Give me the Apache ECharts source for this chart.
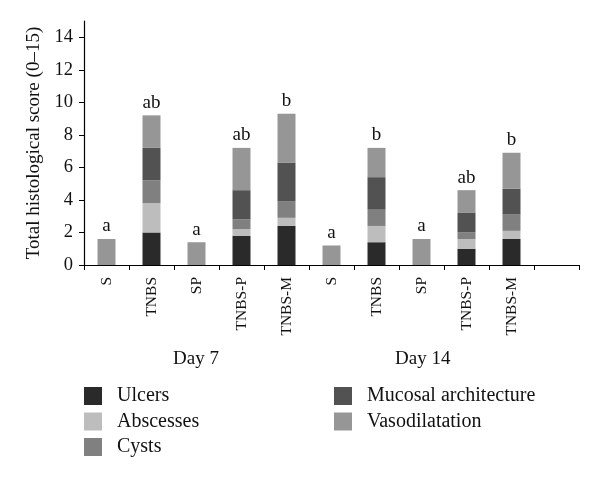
<!DOCTYPE html>
<html>
<head>
<meta charset="utf-8">
<script src="https://cdn.jsdelivr.net/npm/echarts@6/dist/echarts.min.js"></script>
<style>html,body{margin:0;padding:0;background:#fff}#c{width:600px;height:480px}</style>
</head>
<body>
<div id="c"></div>
<script>
const categories = ['S', 'TNBS', 'SP', 'TNBS-P', 'TNBS-M', 'S', 'TNBS', 'SP', 'TNBS-P', 'TNBS-M', ''];
const ulcers        = [0, 2.0, 0, 1.8, 2.4, 0, 1.4, 0, 1.0, 1.6, null];
const abscesses     = [0, 1.8, 0, 0.4, 0.5, 0, 1.0, 0, 0.6, 0.5, null];
const cysts         = [0, 1.4, 0, 0.6, 1.0, 0, 1.0, 0, 0.4, 1.0, null];
const mucosal       = [0, 2.0, 0, 1.8, 2.4, 0, 2.0, 0, 1.2, 1.6, null];
const vasodilatation= [1.6, 2.0, 1.4, 2.6, 3.0, 1.2, 1.8, 1.6, 1.4, 2.2, null];
const letters = ['a', 'ab', 'a', 'ab', 'b', 'a', 'b', 'a', 'ab', 'b', ''];
const yTicks = [0, 2, 4, 6, 8, 10, 12, 14];
const groups = ['Day 7', 'Day 14'];

const FONT = '"Liberation Serif", "DejaVu Serif", serif';
const chart = echarts.init(document.getElementById('c'));
const mk = (name, data, color, withLabel) => ({
  name, type: 'bar', stack: 'total', data, barWidth: 18,
  itemStyle: { color },
  label: withLabel ? {
    show: true, position: 'top', distance: 3, color: '#111',
    fontFamily: FONT, fontSize: 19,
    formatter: p => letters[p.dataIndex]
  } : { show: false },
  emphasis: { disabled: true }
});
const legendText = { fontFamily: FONT, fontSize: 20, color: '#111', padding: [0, 0, 0, 10] };
chart.setOption({
  animation: false,
  grid: { left: 84, right: 21, top: 21, bottom: 215, containLabel: false },
  xAxis: {
    type: 'category', data: categories, boundaryGap: true,
    axisLine: { lineStyle: { color: '#000', width: 1.2 } },
    axisTick: { show: true, length: 5, lineStyle: { color: '#000' }, interval: 0 },
    axisLabel: { rotate: 90, interval: 0, margin: 12, color: '#111', fontFamily: FONT, fontSize: 15.5 }
  },
  yAxis: {
    type: 'value', min: 0, max: 15, interval: 1,
    name: 'Total histological score (0–15)', nameLocation: 'middle', nameGap: 40,
    nameTextStyle: { color: '#111', fontFamily: FONT, fontSize: 19 },
    axisLine: { show: true, lineStyle: { color: '#000', width: 1.2 } },
    axisTick: { show: true, length: 5, lineStyle: { color: '#000' }, customValues: yTicks },
    axisLabel: { color: '#111', fontFamily: FONT, fontSize: 18.5, margin: 11, customValues: yTicks },
    splitLine: { show: false }
  },
  legend: [
    { data: ['Ulcers', 'Abscesses', 'Cysts'], orient: 'vertical', left: 84, top: 386,
      itemWidth: 18, itemHeight: 18, itemGap: 5.5, icon: 'rect', padding: 0,
      textStyle: legendText },
    { data: ['Mucosal architecture', 'Vasodilatation'], orient: 'vertical', left: 334, top: 386,
      itemWidth: 18, itemHeight: 18, itemGap: 5.5, icon: 'rect', padding: 0,
      textStyle: legendText }
  ],
  graphic: [
    { type: 'text', left: 173, top: 350, style: { text: groups[0], fontFamily: FONT, fontSize: 19, fill: '#111' } },
    { type: 'text', left: 395, top: 350, style: { text: groups[1], fontFamily: FONT, fontSize: 19, fill: '#111' } }
  ],
  series: [
    mk('Ulcers', ulcers, '#2a2a2a', false),
    mk('Abscesses', abscesses, '#bdbdbd', false),
    mk('Cysts', cysts, '#808080', false),
    mk('Mucosal architecture', mucosal, '#525252', false),
    mk('Vasodilatation', vasodilatation, '#969696', true)
  ]
});
</script>
</body>
</html>
